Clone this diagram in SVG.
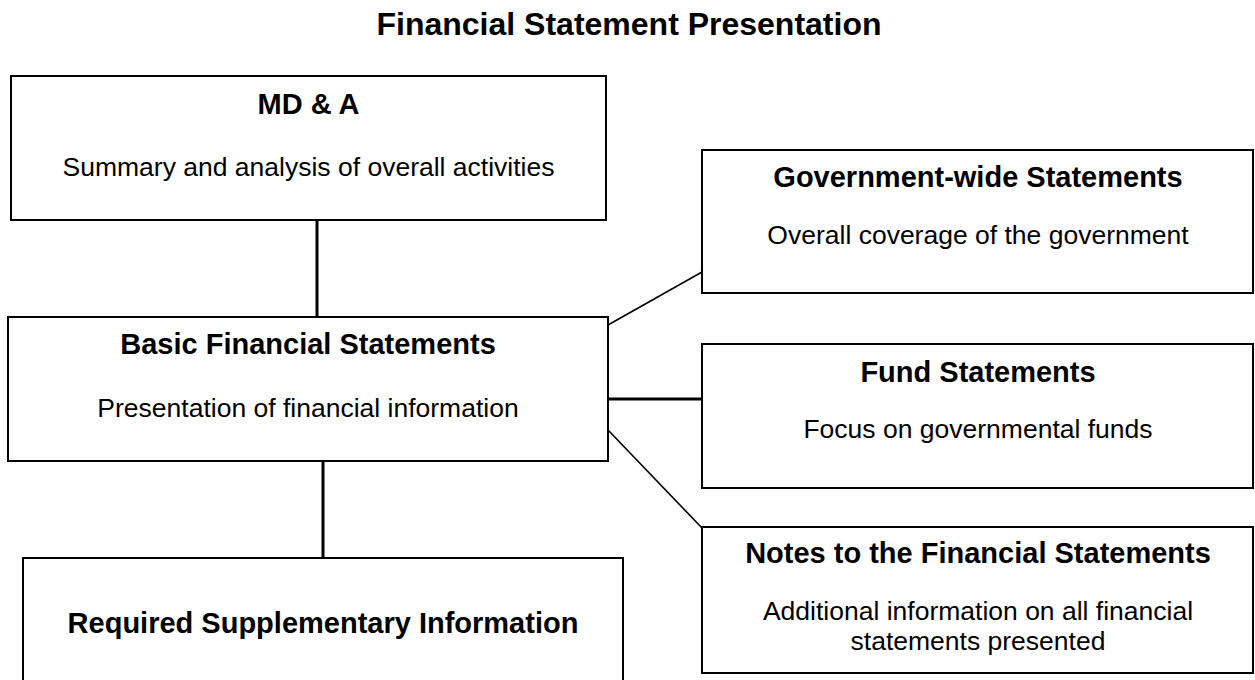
<svg xmlns="http://www.w3.org/2000/svg" width="1255" height="680" viewBox="0 0 1255 680">
<style>
.box{fill:#fff;stroke:#000;stroke-width:2}
.h{font-family:"Liberation Sans",Arial,sans-serif;font-weight:bold;font-size:29px;text-anchor:middle;fill:#000}
.t{font-family:"Liberation Sans",Arial,sans-serif;font-size:26.5px;text-anchor:middle;fill:#000}
.title{font-family:"Liberation Sans",Arial,sans-serif;font-weight:bold;font-size:32px;text-anchor:middle;fill:#000}
.thick{stroke:#000;stroke-width:3;fill:none}
.thin{stroke:#000;stroke-width:1.6;fill:none}
</style>
<rect width="1255" height="680" fill="#fff"/>
<text class="title" x="629" y="35">Financial Statement Presentation</text>
<g id="connectors">
<line class="thick" x1="317" y1="220" x2="317" y2="317"/>
<line class="thick" x1="323" y1="461" x2="323" y2="558"/>
<line class="thin" x1="608" y1="325" x2="702" y2="272"/>
<line class="thick" x1="608" y1="399" x2="702" y2="399"/>
<line class="thin" x1="608" y1="430" x2="702" y2="528"/>
</g>
<g id="mda">
<rect class="box" x="11" y="76" width="595" height="144"/>
<text class="h" x="308.5" y="114">MD &amp; A</text>
<text class="t" x="308.5" y="176">Summary and analysis of overall activities</text>
</g>
<g id="basic">
<rect class="box" x="8" y="317" width="600" height="144"/>
<text class="h" x="308" y="354">Basic Financial Statements</text>
<text class="t" x="308" y="417">Presentation of financial information</text>
</g>
<g id="rsi">
<rect class="box" x="23" y="558" width="600" height="140"/>
<text class="h" x="323" y="633">Required Supplementary Information</text>
</g>
<g id="govwide">
<rect class="box" x="702" y="150" width="551" height="143"/>
<text class="h" x="978" y="187">Government-wide Statements</text>
<text class="t" x="978" y="244">Overall coverage of the government</text>
</g>
<g id="fund">
<rect class="box" x="702" y="344" width="551" height="144"/>
<text class="h" x="978" y="382">Fund Statements</text>
<text class="t" x="978" y="438">Focus on governmental funds</text>
</g>
<g id="notes">
<rect class="box" x="702" y="527" width="551" height="146"/>
<text class="h" x="978" y="563">Notes to the Financial Statements</text>
<text class="t" x="978" y="620">Additional information on all financial</text>
<text class="t" x="978" y="650">statements presented</text>
</g>
</svg>
